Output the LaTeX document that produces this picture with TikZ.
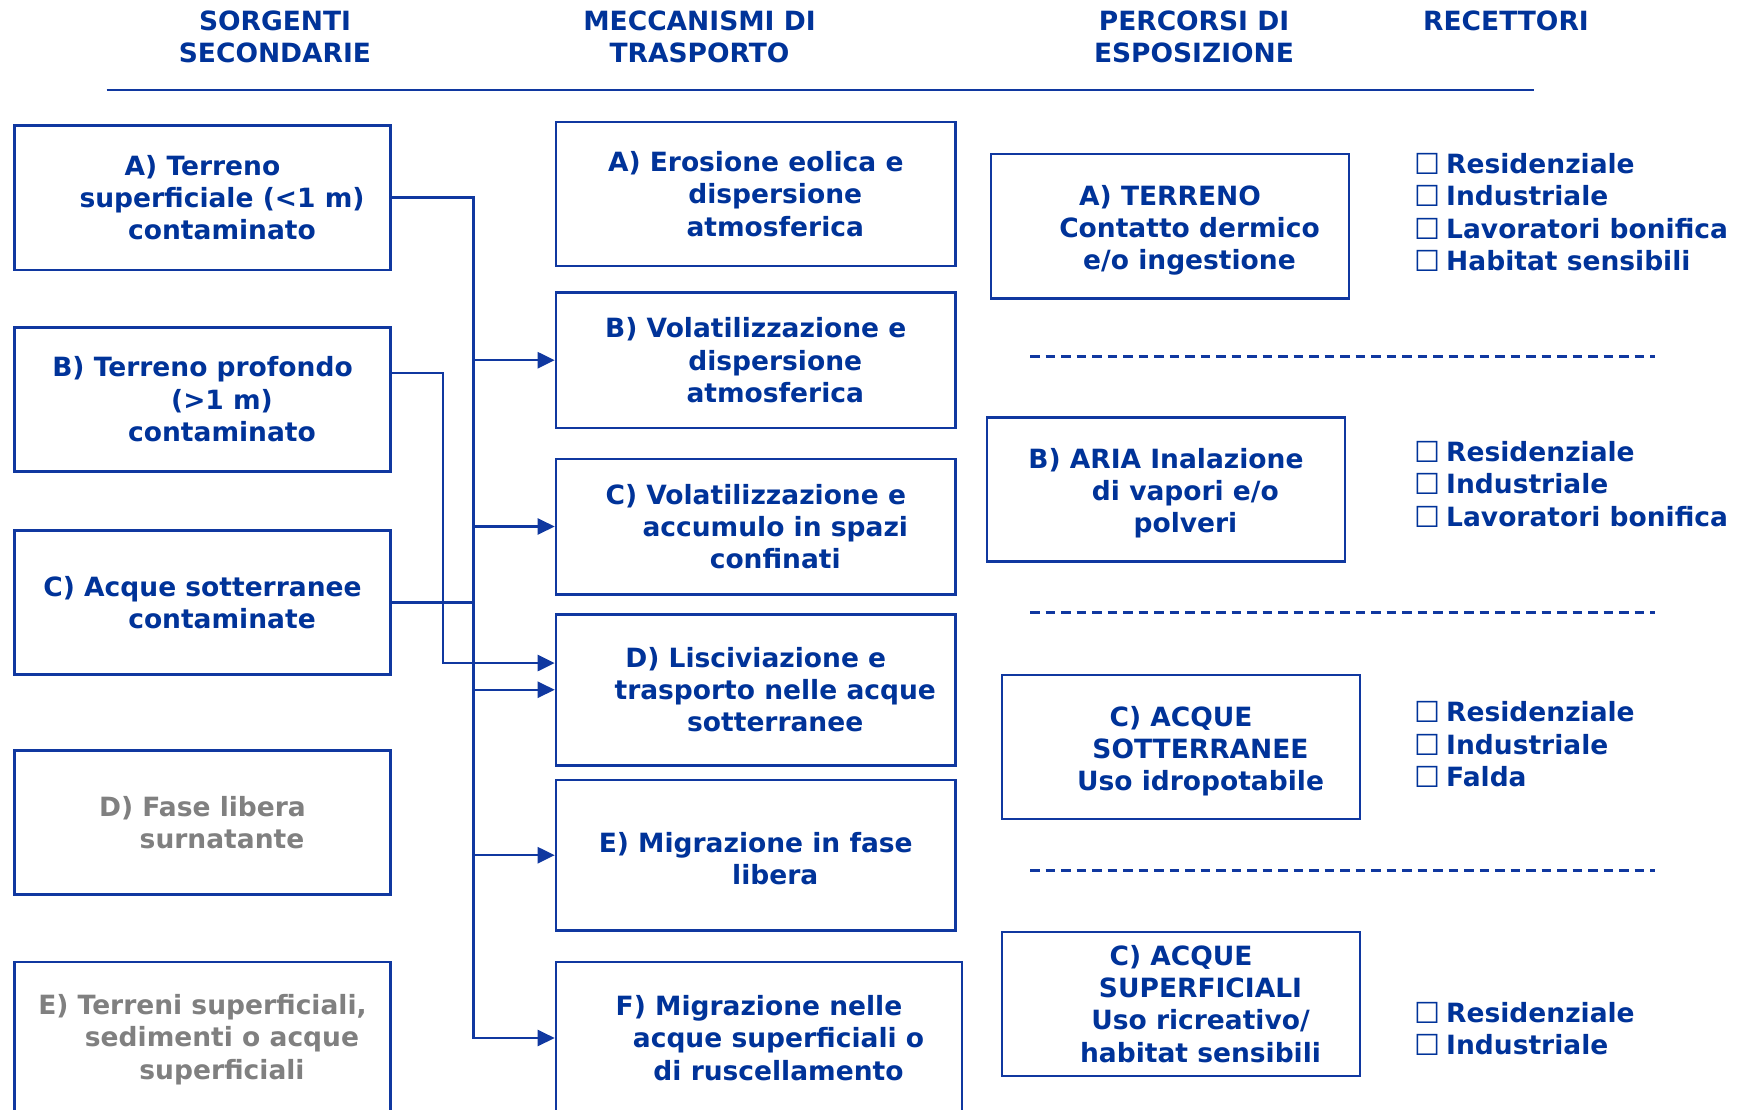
\documentclass[tikz,border=0pt]{standalone}
\usepackage{fontspec}
\setmainfont{DejaVu Sans}
\usetikzlibrary{arrows.meta}

\definecolor{navy}{RGB}{0,51,153}
\definecolor{linkblue}{RGB}{16,56,160}
\definecolor{greytext}{RGB}{128,128,128}

% indent of the continuation lines inside the boxes
\newcommand\ind{\hspace*{39pt}}
% extra head room on a first line, to lower the text block a little
\newcommand\lift{\rule{0pt}{28pt}}
% empty check box in front of each receptor
\newcommand\cb{\makebox[32pt][l]{\raisebox{-1pt}{\mdseries\fontsize{29pt}{29pt}\selectfont ☐}}}

\begin{document}
\begin{tikzpicture}[x=1pt,y=-1pt,
  txt/.style={font=\fontsize{26.5pt}{32.2pt}\selectfont\bfseries, text=navy},
  box/.style={txt, draw=linkblue, line width=2.6pt, inner sep=0pt, align=center},
  greybox/.style={box, text=greytext},
  head/.style={txt, align=center, inner sep=0pt},
  recept/.style={txt, align=left, anchor=west, inner sep=0pt},
  conn/.style={draw=linkblue, line width=2.4pt},
  arr/.style={conn, -{Triangle[length=17pt,width=16pt]}},
  sep/.style={draw=linkblue, line width=2.4pt, dash pattern=on 9.5pt off 6pt}]

\useasboundingbox (0,0) rectangle (1740,1110);
\fill[white] (0,0) rectangle (1740,1110);
\clip (0,0) rectangle (1740,1110);

% column headings
\node[head] (h1) at (275,37.2) {SORGENTI\\SECONDARIE};
\node[head] (h2) at (699.5,37.2) {MECCANISMI DI\\TRASPORTO};
\node[head] (h3) at (1194,37.2) {PERCORSI DI\\ESPOSIZIONE};
\node[head] (h4) at (1506,21) {RECETTORI};
\coordinate (rl) at (106.5,90);
\coordinate (rr) at (1533.6,90);
\draw[conn, line width=2.6pt] (rl) -- (rr);

% secondary sources
\node[box, minimum width=376.2pt, minimum height=144.4pt] (LA) at (202.5,197.6)
  {A) Terreno\\\ind superficiale (<1 m)\\\ind contaminato};
\node[box, minimum width=376.2pt, minimum height=144pt] (LB) at (202.5,399.2)
  {B) Terreno profondo\\\ind (>1 m)\\\ind contaminato};
\node[box, minimum width=376.2pt, minimum height=144pt] (LC) at (202.5,602.5)
  {C) Acque sotterranee\\\ind contaminate};
\node[greybox, minimum width=376.2pt, minimum height=144pt] (LD) at (202.5,822.5)
  {D) Fase libera\\\ind surnatante};
\node[greybox, minimum width=376.2pt, minimum height=155pt] (LE) at (202.5,1039.5)
  {E) Terreni superficiali,\\\ind sedimenti o acque\\\ind superficiali};

% transport mechanisms
\node[box, minimum width=399.5pt, minimum height=144pt] (MA) at (755.75,194)
  {A) Erosione eolica e\\\ind dispersione\\\ind atmosferica};
\node[box, minimum width=399.5pt, minimum height=135.3pt] (MB) at (755.75,360.2)
  {B) Volatilizzazione e\\\ind dispersione\\\ind atmosferica};
\node[box, minimum width=399.5pt, minimum height=135.4pt] (MC) at (755.75,526.5)
  {C) Volatilizzazione e\\\ind accumulo in spazi\\\ind confinati};
\node[box, minimum width=399.5pt, minimum height=151pt] (MD) at (755.75,689.75)
  {D) Lisciviazione e\\\ind trasporto nelle acque\\\ind sotterranee};
\node[box, minimum width=399.5pt, minimum height=150.4pt] (ME) at (755.75,855.2)
  {\rule{0pt}{27pt}E) Migrazione in fase\\\ind libera};
\node[box, minimum width=406pt, minimum height=152pt] (MF) at (759,1038)
  {F) Migrazione nelle\\\ind acque superficiali o\\\ind di ruscellamento};

% exposure pathways
\node[box, minimum width=358pt, minimum height=144.5pt] (PA) at (1170,226.3)
  {\lift A) TERRENO\\\ind Contatto dermico\\\ind e/o ingestione};
\node[box, minimum width=358.2pt, minimum height=144.2pt] (PB) at (1165.9,489.4)
  {\lift B) ARIA Inalazione\\\ind di vapori e/o\\\ind polveri};
\node[box, minimum width=358pt, minimum height=144pt] (PC) at (1181,747)
  {\lift C) ACQUE\\\ind SOTTERRANEE\\\ind Uso idropotabile};
\node[box, minimum width=358pt, minimum height=144pt] (PD) at (1181,1004)
  {C) ACQUE\\\ind SUPERFICIALI\\\ind Uso ricreativo/\\\ind habitat sensibili};

% receptors
\node[recept] (R1) at (1414,212.5)
  {\cb Residenziale\\\cb Industriale\\\cb Lavoratori bonifica\\\cb Habitat sensibili};
\node[recept] (R2) at (1414,484.4)
  {\cb Residenziale\\\cb Industriale\\\cb Lavoratori bonifica};
\node[recept] (R3) at (1414,744.6)
  {\cb Residenziale\\\cb Industriale\\\cb Falda};
\node[recept] (R4) at (1414,1029)
  {\cb Residenziale\\\cb Industriale};

% dashed separators between the pathway groups
\coordinate (s1l) at (1030,356.5); \coordinate (s1r) at (1655,356.5);
\coordinate (s2l) at (1030,612.6); \coordinate (s2r) at (1655,612.6);
\coordinate (s3l) at (1030,870.5); \coordinate (s3r) at (1655,870.5);
\draw[sep] (s1l) -- (s1r);
\draw[sep] (s2l) -- (s2r);
\draw[sep] (s3l) -- (s3r);

% connectors: main collector from source A
\coordinate (bus) at (473.5,0);
\coordinate (drop) at (442.8,0);
\coordinate (mdB) at ([yshift=26.7pt]MD.west);
\coordinate (lbB) at ([yshift=26.4pt]LB.east);
\draw[arr] (LA.east) -| (bus |- MF.west) -- (MF.west);
\draw[arr] (bus |- MB.west) -- (MB.west);
\draw[arr] (bus |- MC.west) -- (MC.west);
\draw[arr] (bus |- MD.west) -- (MD.west);
\draw[arr] (bus |- ME.west) -- (ME.west);
\draw[conn] (LC.east) -- (bus |- LC.east);
\draw[arr] (lbB) -| (drop |- mdB) -- (mdB);
\end{tikzpicture}
\end{document}
